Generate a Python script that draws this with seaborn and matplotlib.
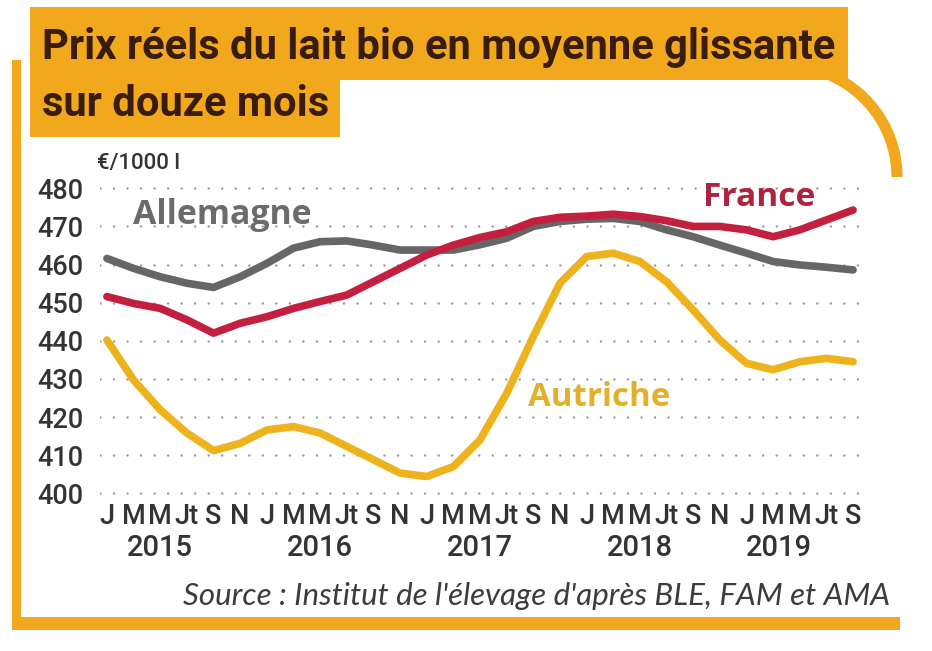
import numpy as np
import pandas as pd
import matplotlib
matplotlib.use('Agg')
import matplotlib.pyplot as plt
from matplotlib.patches import Rectangle, Arc
from matplotlib.transforms import blended_transform_factory
import seaborn as sns

# donnees (moyenne glissante 12 mois, EUR/1000 l), un point tous les deux mois
mois = ['J', 'M', 'M', 'Jt', 'S', 'N'] * 4 + ['J', 'M', 'M', 'Jt', 'S']
annees = ['2015', '2016', '2017', '2018', '2019']
pos_annees = [2.0, 8.0, 14.0, 20.0, 25.2]

allemagne = [461.6, 459.0, 456.8, 455.1, 454.0, 456.8, 460.3, 464.3, 466.0, 466.2,
             465.1, 463.8, 463.8, 463.8, 465.2, 466.9, 470.0, 471.3, 471.9, 472.1,
             471.3, 469.1, 467.3, 465.1, 463.0, 460.8, 459.9, 459.3, 458.6]
france = [451.6, 449.8, 448.5, 445.5, 442.0, 444.6, 446.3, 448.5, 450.3, 452.0,
          455.5, 459.0, 462.5, 465.1, 467.1, 468.6, 471.3, 472.4, 472.7, 473.2,
          472.6, 471.5, 470.0, 470.0, 469.1, 467.3, 469.1, 471.7, 474.3]
autriche = [440.2, 429.7, 421.9, 415.8, 411.2, 413.1, 416.6, 417.5, 415.8, 412.3,
            408.8, 405.3, 404.4, 407.0, 414.0, 426.2, 441.1, 455.1, 462.1, 463.0,
            460.8, 455.5, 448.1, 440.2, 434.1, 432.4, 434.5, 435.4, 434.5]

orange = '#F2A81D'
couleurs = {'Autriche': '#EDB21C', 'Allemagne': '#666666', 'France': '#C41F3E'}

n = len(mois)
df = pd.DataFrame({
    't': list(range(n)) * 3,
    'prix': autriche + allemagne + france,
    'pays': ['Autriche'] * n + ['Allemagne'] * n + ['France'] * n,
})

sns.set_theme(style='white')
plt.rcParams['font.family'] = ['Roboto', 'DejaVu Sans']

fig = plt.figure(figsize=(9.32, 6.51), dpi=100)

# calque de fond en pixels pour le cadre orange et les textes
deco = fig.add_axes([0, 0, 1, 1], zorder=0)
deco.set_xlim(0, 932)
deco.set_ylim(651, 0)
deco.axis('off')

ax = fig.add_axes([100 / 932, 1 - 497.1 / 651, 760 / 932, (497.1 - 184.5) / 651], zorder=1)
ax.patch.set_alpha(0)


def ajuste(txt, largeur):
    # met la taille de police a l'echelle pour obtenir la largeur voulue (px)
    r = fig.canvas.get_renderer()
    w = txt.get_window_extent(renderer=r).width
    txt.set_fontsize(txt.get_fontsize() * largeur / w)


# cadre
deco.add_patch(Rectangle((30, 7), 818, 73, color=orange, lw=0))
deco.add_patch(Rectangle((30, 79), 310, 58, color=orange, lw=0))
deco.add_patch(Rectangle((12, 60), 9, 570, color=orange, lw=0))
deco.add_patch(Rectangle((12, 617), 888, 13, color=orange, lw=0))
deco.add_patch(Arc((786, 177), 222, 222, theta1=-66, theta2=0, color=orange, lw=8))

t1 = deco.text(42, 47, 'Prix réels du lait bio en moyenne glissante', fontsize=30,
               fontweight='bold', color='#3A1C0C', ha='left', va='center')
ajuste(t1, 793)
deco.text(42, 105, 'sur douze mois', fontsize=t1.get_fontsize(),
          fontweight='bold', color='#3A1C0C', ha='left', va='center')

src = deco.text(890, 596, "Source : Institut de l'élevage d'après BLE, FAM et AMA",
                fontsize=17, style='italic', color='#3C3C3C', ha='right', va='center',
                family=['Lato', 'DejaVu Sans'])
ajuste(src, 705)

deco.text(97, 163, '€/1000 l', fontsize=16, fontweight='medium', color='#333333',
          ha='left', va='center')

# courbes
sns.lineplot(data=df, x='t', y='prix', hue='pays', hue_order=['Autriche', 'Allemagne', 'France'],
             palette=couleurs, linewidth=5.5, legend=False, ax=ax)
for l in ax.lines:
    l.set_solid_capstyle('round')
    l.set_solid_joinstyle('round')

ax.set_xlim(-0.26, 28.26)
ax.set_ylim(399, 481)
ax.set_xticks(range(n))
ax.set_xticklabels(mois)
ax.set_yticks(range(400, 481, 10))
ax.tick_params(axis='both', length=0, labelsize=19.5, colors='#333333')
ax.tick_params(axis='x', pad=4)
ax.tick_params(axis='y', pad=12)
for lab in ax.get_xticklabels() + ax.get_yticklabels():
    lab.set_fontweight('medium')
ax.set_xlabel('')
ax.set_ylabel('')
ax.grid(True, axis='y', color='#9A9A9A', lw=1.8, linestyle=(0, (0.01, 5.4)),
        dash_capstyle='round')
ax.grid(False, axis='x')
ax.set_axisbelow(True)
sns.despine(ax=ax, left=True, bottom=True)

trans = blended_transform_factory(ax.transData, deco.transData)
for x, a in zip(pos_annees, annees):
    ax.text(x, 548, a, transform=trans, fontsize=21, fontweight='medium', color='#333333',
            ha='center', va='center')

# etiquettes des series
etiquettes = [('Allemagne', 0.98, 473.0, 179, '#6B6B6B'),
              ('France', 22.37, 477.7, 112, '#B0233F'),
              ('Autriche', 15.8, 425.0, 142, '#E2B02A')]
for nom, x, y, w, c in etiquettes:
    t = ax.text(x, y, nom, fontsize=20, fontweight='bold', color=c,
                ha='left', va='center', family=['Open Sans', 'DejaVu Sans'])
    ajuste(t, w)

fig.savefig('out.png', dpi=100)
